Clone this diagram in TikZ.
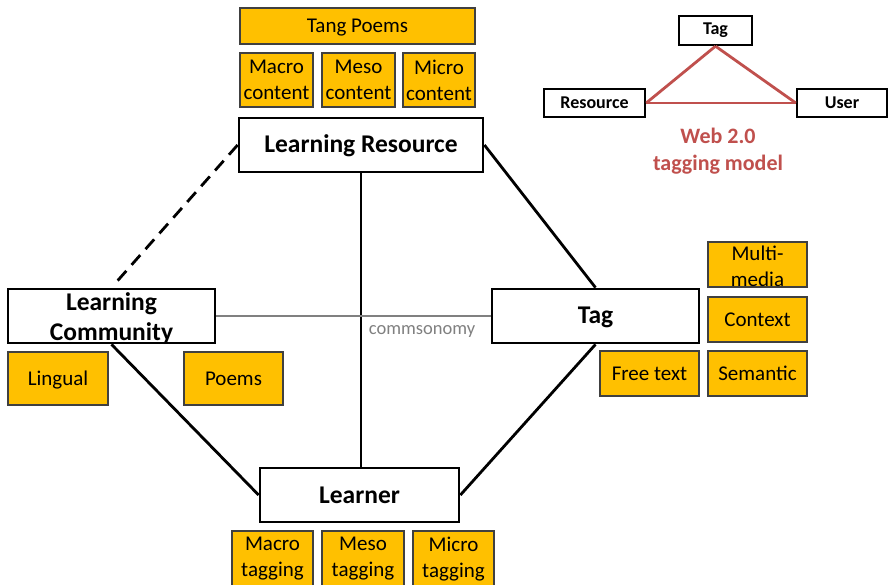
\documentclass[tikz,border=0pt]{standalone}
\usepackage{fontspec}
\setmainfont{Carlito}
\definecolor{gold}{HTML}{FFC000}
\definecolor{webred}{HTML}{C0504D}
\definecolor{boxedge}{HTML}{404040}
\definecolor{midgrey}{HTML}{808080}
\begin{document}
\begin{tikzpicture}[x=1pt,y=-1pt,
 mainbox/.style={draw=black, line width=2.8pt, fill=white, font=\fontsize{25.5}{30}\selectfont\bfseries, inner sep=0pt, align=center},
 mainline/.style={text height=18pt, text depth=2.8pt},
 itembox/.style={draw=boxedge, line width=1.2pt, fill=gold, font=\fontsize{21}{26}\selectfont, inner sep=0pt, align=center},
 itemline/.style={text height=16pt, text depth=2.5pt},
 smallbox/.style={draw=black, line width=2.4pt, fill=white, font=\fontsize{18}{22}\selectfont\bfseries, inner sep=0pt},
 link/.style={line width=2.8pt, draw=black},
 redlink/.style={line width=2.8pt, draw=webred},
]
\clip (0,0) rectangle (889,585);
\fill[white] (0,0) rectangle (889,585);

% top resource items
\node[itembox, itemline, minimum width=235pt, minimum height=36pt] (tang) at (357.5,26) {Tang Poems};
\node[itembox, minimum width=73pt, minimum height=54pt] (macroc) at (276.5,80) {Macro\\content};
\node[itembox, minimum width=73pt, minimum height=54pt] (mesoc) at (358.5,80) {Meso\\content};
\node[itembox, minimum width=72pt, minimum height=54pt] (microc) at (439,80) {Micro\\content};

% main nodes
\node[mainbox, mainline, minimum width=244pt, minimum height=54pt] (LR) at (361,145) {Learning Resource};
\node[mainbox, minimum width=207pt, minimum height=54pt,
      label={[font=\fontsize{25.5}{30}\selectfont\bfseries, align=center, inner sep=0pt, yshift=-3pt]center:{Learning\\Community}}] (LC) at (111.5,316) {};
\node[mainbox, mainline, minimum width=207pt, minimum height=54pt] (Tag) at (595.5,316) {Tag};
\node[mainbox, minimum width=199pt, minimum height=54pt] (Learner) at (359.5,495) {Learner};

% community items
\node[itembox, itemline, minimum width=100pt, minimum height=53pt] (lingual) at (58,378.5) {Lingual};
\node[itembox, itemline, minimum width=99pt, minimum height=53pt] (poems) at (233.5,378.5) {Poems};

% tag items
\node[itembox, minimum width=99pt, minimum height=45pt,
      label={[font=\fontsize{21}{26}\selectfont, align=center, inner sep=0pt, yshift=-2pt]center:{Multi-\\media}}] (multi) at (757.5,264.5) {};
\node[itembox, itemline, minimum width=99pt, minimum height=45pt] (context) at (757.5,319.5) {Context};
\node[itembox, itemline, minimum width=99pt, minimum height=45pt] (semantic) at (757.5,373.5) {Semantic};
\node[itembox, itemline, minimum width=99pt, minimum height=45pt] (free) at (649.5,373.5) {Free text};

% learner items
\node[itembox, minimum width=81pt, minimum height=56pt] (macrot) at (272.5,559) {Macro\\tagging};
\node[itembox, minimum width=82pt, minimum height=56pt] (mesot) at (363,559) {Meso\\tagging};
\node[itembox, minimum width=81pt, minimum height=56pt] (microt) at (453.5,559) {Micro\\tagging};

% connectors
\draw[link, dash pattern=on 13pt off 8pt, shorten >=7pt] (LR.west) -- (LC.north);
\draw[link] (LR.east) -- (Tag.north);
\draw[link] (LR.south) -- (LR.south |- Learner.north);
\draw[link] (LC.south) -- (Learner.west);
\draw[link] (Tag.south) -- (Learner.east);
\draw[line width=2.2pt, draw=midgrey] (LC.east) -- (Tag.west);
\node[font=\fontsize{18.5}{22}\selectfont, text=midgrey, inner sep=0pt] (comm) at (422,332) {commsonomy};

% Web 2.0 model
\node[smallbox, minimum width=73pt, minimum height=29pt] (wtag) at (715.5,30.5) {Tag};
\node[smallbox, minimum width=101pt, minimum height=28pt] (wres) at (594.5,103) {Resource};
\node[smallbox, minimum width=90pt, minimum height=28pt] (wuser) at (842,103) {User};
\draw[redlink] (wtag.south) -- (wres.east);
\draw[redlink] (wtag.south) -- (wuser.west);
\draw[redlink] (wres.east) -- (wuser.west);
\node[font=\fontsize{22}{27}\selectfont\bfseries, text=webred, align=center, inner sep=0pt] (wlabel) at (718,151) {Web 2.0\\tagging model};
\end{tikzpicture}
\end{document}
